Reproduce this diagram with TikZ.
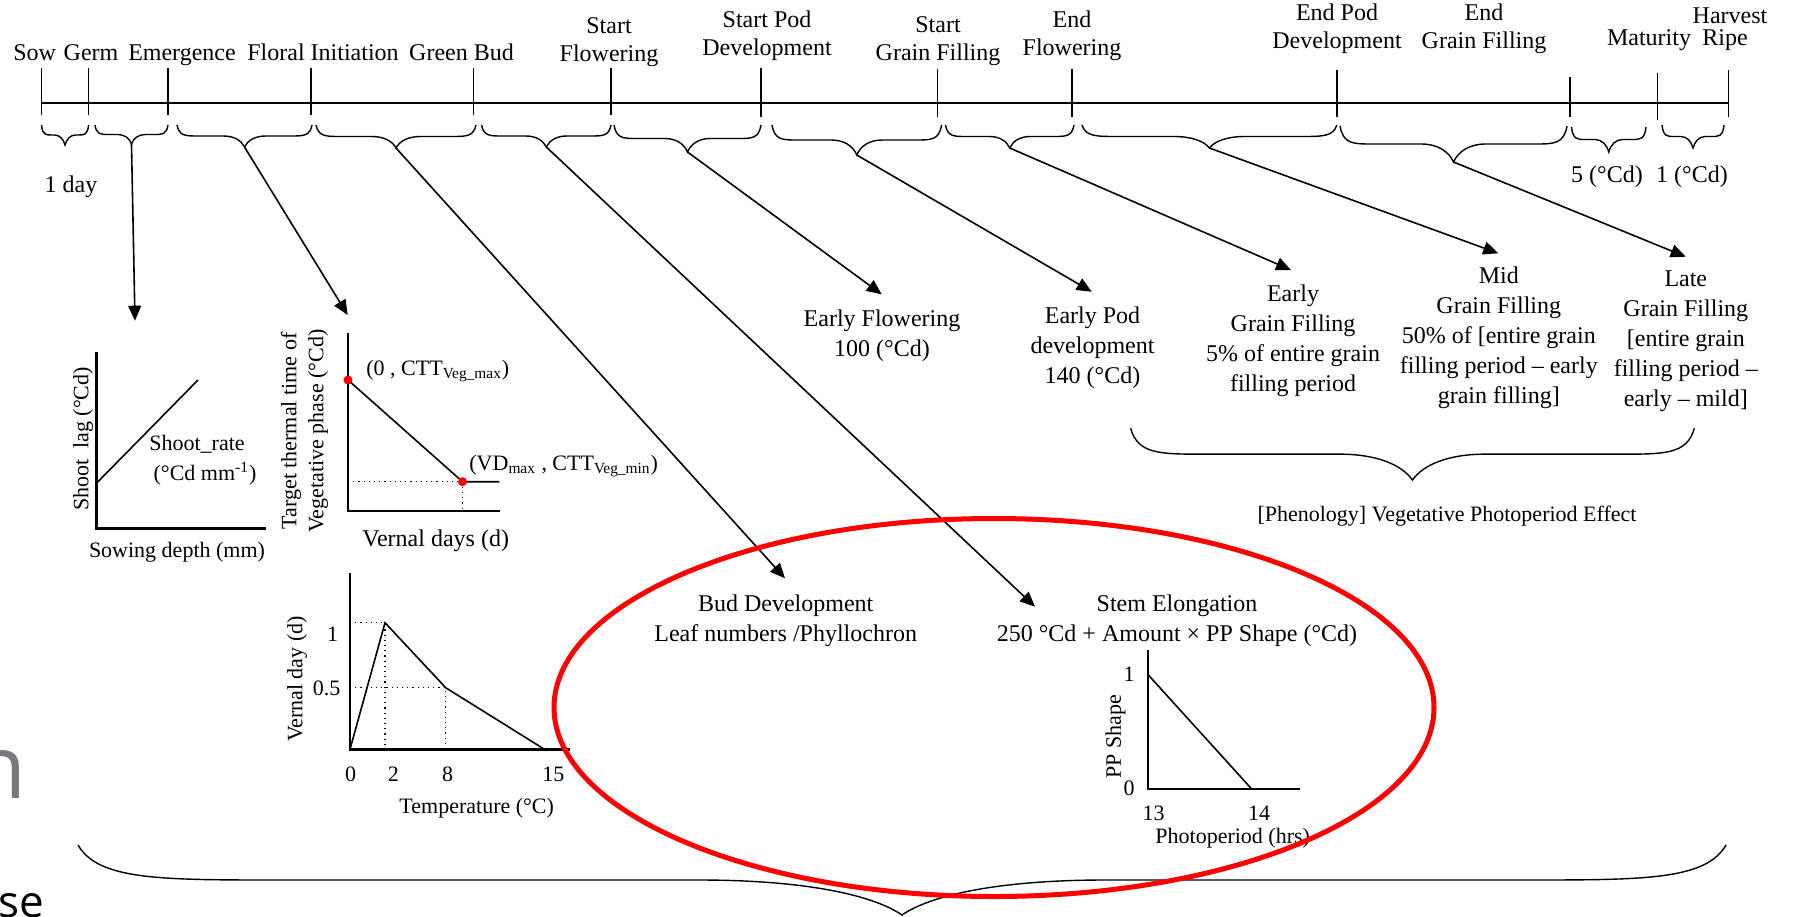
\documentclass[tikz,border=0pt]{standalone}
\usepackage{fontspec}
\setmainfont{Liberation Serif}
\newfontfamily\slidefont{Open Sans}
\usetikzlibrary{arrows.meta}
\definecolor{slidegray}{RGB}{120,120,126}
\definecolor{ringred}{RGB}{255,0,0}
\tikzstyle{timeline} = [line width=1pt]
\tikzstyle{tick} = [line width=0.7pt]
\tikzstyle{brc} = [line width=0.7pt]
\tikzstyle{lead} = [line width=0.8pt,-{Triangle[length=7.5pt,width=6.5pt]}]
\tikzstyle{stage} = [inner sep=0pt,anchor=base,align=center,font=\fontsize{12}{14}\selectfont]
\tikzstyle{note} = [inner sep=0pt,anchor=base,align=center,font=\fontsize{12}{15}\selectfont]
\tikzstyle{axis} = [line width=1.2pt]
\tikzstyle{curve} = [line width=0.8pt]
\tikzstyle{guide} = [line width=0.6pt,dotted]
\tikzstyle{axlabel} = [inner sep=0pt,anchor=base,align=center,font=\fontsize{11}{13.5}\selectfont]
\tikzstyle{dot} = [circle,fill=ringred,inner sep=0pt,minimum size=4.5pt]
% brace from x #1 to x #2, ends at y #3, tip at y #4, tip coordinate named #5
\newcommand{\phasebrace}[5]{%
  \pgfmathsetmacro{\brMid}{(#1+#2)/2}%
  \pgfmathsetmacro{\brCurl}{0.12*(#2-#1)+5}%
  \pgfmathsetmacro{\brHalf}{(#3+#4)/2}%
  \pgfmathsetmacro{\brNeck}{\brHalf+0.4*(#4-\brHalf)}%
  \draw[brc] (#1,#3) .. controls ({#1+0.1*\brCurl},\brHalf) and ({#1+0.4*\brCurl},\brHalf) .. ({#1+\brCurl},\brHalf)
    -- ({\brMid-\brCurl},\brHalf) .. controls ({\brMid-0.5*\brCurl},\brHalf) and ({\brMid-0.15*\brCurl},\brNeck) .. (\brMid,#4)
    .. controls ({\brMid+0.15*\brCurl},\brNeck) and ({\brMid+0.5*\brCurl},\brHalf) .. ({\brMid+\brCurl},\brHalf)
    -- ({#2-\brCurl},\brHalf) .. controls ({#2-0.4*\brCurl},\brHalf) and ({#2-0.1*\brCurl},\brHalf) .. (#2,#3);
  \coordinate (#5) at (\brMid,#4);}

\begin{document}
\begin{tikzpicture}[x=0.5pt,y=-0.5pt]
\useasboundingbox (0,0) rectangle (1798,916);

% timeline
\draw[timeline] (41.5,102.7) -- (1728.5,102.7);
\draw[tick] (41.5,68) -- (41.5,115);
\draw[tick] (88.6,68) -- (88.6,115);
\draw[tick] (168,68) -- (168,115);
\draw[tick] (310.8,68) -- (310.8,115);
\draw[tick] (473.7,68) -- (473.7,115);
\draw[tick] (611,68) -- (611,115);
\draw[tick] (761,68) -- (761,117);
\draw[tick] (937.6,69) -- (937.6,117);
\draw[tick] (1072,69) -- (1072,117);
\draw[tick] (1336.8,70) -- (1336.8,117);
\draw[tick] (1570,77) -- (1570,117);
\draw[tick] (1657.4,73) -- (1657.4,120);
\draw[tick] (1728.5,70) -- (1728.5,117);

% stage names (multi-line nodes sit on the baseline of their last line)
\node[stage] (sow) at (34.6,60) {Sow};
\node[stage] (germ) at (91,60) {Germ};
\node[stage] (emerg) at (182,60) {Emergence};
\node[stage] (floral) at (323,60) {Floral Initiation};
\node[stage] (green) at (461.5,60) {Green Bud};
\node[stage] (sflow) at (609,61) {Start\\Flowering};
\node[stage] (spod) at (767,55) {Start Pod\\Development};
\node[stage] (sgrain) at (938,60) {Start\\Grain Filling};
\node[stage] (eflow) at (1072,55) {End\\Flowering};
\node[stage] (epod) at (1337,48) {End Pod\\Development};
\node[stage] (egrain) at (1484,48) {End\\Grain Filling};
\node[stage] (matur) at (1649,45) {Maturity};
\node[stage] (harv) at (1730,23) {Harvest};
\node[stage] (ripe) at (1725,45) {Ripe};

% phase braces
\phasebrace{41.5}{88.6}{125}{145}{bSow}
\phasebrace{95}{168}{125}{144}{bGerm}
\phasebrace{177}{312}{125}{147}{bEmerg}
\phasebrace{316}{476}{125}{148}{bFloral}
\phasebrace{481.6}{611}{125}{147}{bGreen}
\phasebrace{614}{761}{125}{152}{bSFlow}
\phasebrace{772}{941.6}{125}{155}{bSPod}
\phasebrace{945.5}{1074}{125}{148}{bSGrain}
\phasebrace{1082}{1336.8}{125}{148}{bEFlow}
\phasebrace{1340}{1567}{126}{162}{bEPod}
\phasebrace{1571.5}{1646}{127}{152}{bEGrain}
\phasebrace{1662}{1724}{125}{148}{bMatur}

\node[stage] (oneDay) at (71,192) {1 day};
\node[stage] (matDur) at (1607,182) {5 (°Cd)};
\node[stage] (ripeDur) at (1692,182) {1 (°Cd)};

% phase notes
\node[note] (earlyFlow) at (882,356.7) {Early Flowering\\100 (°Cd)};
\node[note] (earlyPod) at (1092.5,383.3) {Early Pod\\development\\140 (°Cd)};
\node[note] (earlyGrain) at (1293,391.7) {Early\\Grain Filling\\5\% of entire grain\\filling period};
\node[note] (midGrain) at (1498.8,403.3) {Mid\\Grain Filling\\50\% of [entire grain\\filling period – early\\grain filling]};
\node[note] (lateGrain) at (1685.8,406) {Late\\Grain Filling\\{[}entire grain\\filling period –\\early – mild]};
\node[note] (budDev) at (785.7,641) {Bud Development\\Leaf numbers /Phyllochron};
\node[note] (stemElong) at (1177,641) {Stem Elongation\\250 °Cd + Amount × PP Shape (°Cd)};

\phasebrace{1130.6}{1694.3}{428.3}{480}{bPhoto}
\node[axlabel] (photoEffect) at (1447,521.7) {[Phenology] Vegetative Photoperiod Effect};

% arrow ends
\coordinate (eShoot) at (135,320.7);
\coordinate (eTarget) at (347.7,315);
\coordinate (eBud) at (785,578.3);
\coordinate (eStem) at (1035,606.7);
\coordinate (eEFlow) at (881.7,294.3);
\coordinate (eEPod) at (1091.7,291.7);
\coordinate (eEGrain) at (1291,270);
\coordinate (eMGrain) at (1498.3,253.3);
\coordinate (eLGrain) at (1685.7,256.7);
\draw[lead] (bGerm) -- (eShoot);
\draw[lead] (bEmerg) -- (eTarget);
\draw[lead] (bFloral) -- (eBud);
\draw[lead] (bGreen) -- (eStem);
\draw[lead] (bSFlow) -- (eEFlow);
\draw[lead] (bSPod) -- (eEPod);
\draw[lead] (bSGrain) -- (eEGrain);
\draw[lead] (bEFlow) -- (eMGrain);
\draw[lead] (bEPod) -- (eLGrain);

% shoot lag chart
\draw[axis] (96.4,351.7) -- (96.4,528.3) -- (266,528.3);
\draw[curve] (96.4,483.3) -- (198,380);
\node[axlabel] (shootRate) at (197,450) {Shoot\_rate};
\node[axlabel] (shootUnit) at (205,480) {(°Cd mm\textsuperscript{-1})};
\node[axlabel,anchor=center,rotate=90] (shootLag) at (83,439) {Shoot\ \ lag (°Cd)};
\node[axlabel] (sowDepth) at (177,557) {Sowing depth (mm)};

% target thermal time chart
\draw[axis] (348,333.3) -- (348,510.7) -- (500,510.7);
\draw[guide] (348,481.7) -- (462.5,481.7) -- (462.5,512);
\draw[curve] (348,380) -- (462.5,481.7) -- (499.3,481.7);
\node[dot] (cttMax) at (348,380) {};
\node[dot] (cttMin) at (462.5,481.7) {};
\node[axlabel,anchor=base west] (cttMaxLbl) at (366,375) {(0 , CTT\textsubscript{Veg\_max})};
\node[axlabel,anchor=base west] (cttMinLbl) at (469,470) {(VD\textsubscript{max} , CTT\textsubscript{Veg\_min})};
\node[axlabel,anchor=center,rotate=90] (targetLbl) at (304.5,431) {Target thermal time of\\Vegetative phase (°Cd)};
\node[axlabel,font=\fontsize{12}{14}\selectfont] (vernDays) at (435.7,546.7) {Vernal days (d)};

% vernal day chart
\draw[axis] (350,573.3) -- (350,749.3) -- (570,749.3);
\draw[guide] (350,622.7) -- (385,622.7) -- (385,749.3);
\draw[guide] (350,687.7) -- (445.7,687.7) -- (445.7,749.3);
\draw[curve] (350,749.3) -- (385,622.7) -- (445.7,687.7) -- (546.7,750.7);
\node[axlabel] (vdOne) at (332.5,641.7) {1};
\node[axlabel] (vdHalf) at (326.7,695) {0.5};
\node[axlabel] (tZero) at (350.7,781.7) {0};
\node[axlabel] (tTwo) at (393.3,781.7) {2};
\node[axlabel] (tEight) at (447.7,781.7) {8};
\node[axlabel] (tFifteen) at (553.3,781.7) {15};
\node[axlabel,anchor=center,rotate=90] (vernDay) at (297,679) {Vernal day (d)};
\node[axlabel] (tempLbl) at (476.7,813) {Temperature (°C)};

% PP shape chart
\draw[axis] (1147.7,650) -- (1147.7,789) -- (1299.5,789);
\draw[curve] (1147.7,674.3) -- (1251.7,789);
\node[axlabel] (ppOne) at (1129,681.7) {1};
\node[axlabel] (ppZero) at (1129,795) {0};
\node[axlabel] (hThirteen) at (1153.5,820) {13};
\node[axlabel] (hFourteen) at (1259,820) {14};
\node[axlabel,anchor=center,rotate=90] (ppLbl) at (1115.5,737) {PP Shape};
\node[axlabel] (photoLbl) at (1232.7,843.3) {Photoperiod (hrs)};

% whole season brace
\phasebrace{78}{1726}{845}{915}{bAll}

% slide fragments at the left edge
\node[anchor=base west,inner sep=0pt,text=slidegray,font=\slidefont\fontsize{44}{44}\selectfont] (fragN) at (-28,798) {n};
\node[anchor=base west,inner sep=0pt,font=\slidefont\fontsize{22}{22}\selectfont] (fragSe) at (-2,917) {se};

% highlight ring
\draw[ringred,line width=2.5pt] (994,707.5) ellipse [x radius=440,y radius=189];
\end{tikzpicture}
\end{document}
